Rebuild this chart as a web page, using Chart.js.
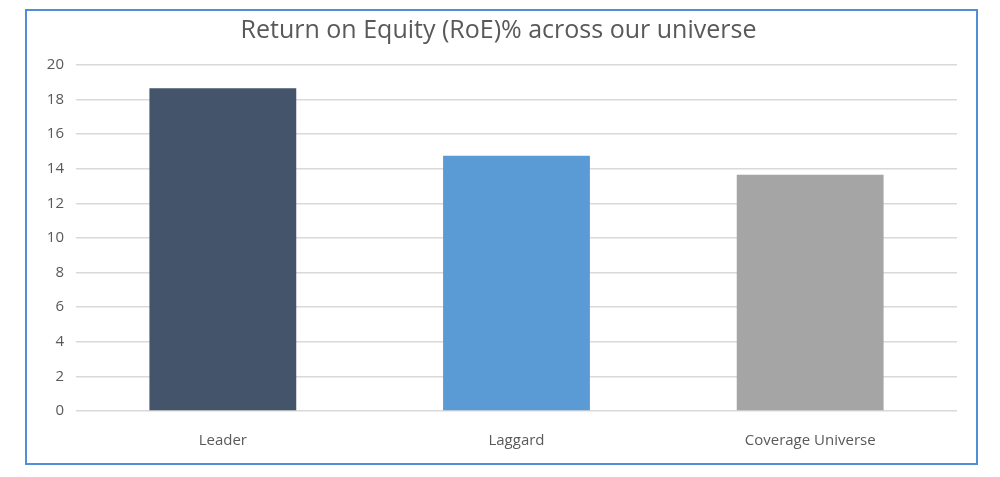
<!DOCTYPE html>
<html>
<head>
<meta charset="utf-8">
<script src="https://cdn.jsdelivr.net/npm/chart.js@4"></script>
<style>
  html, body { margin: 0; padding: 0; background: #fff; }
  #wrap { position: absolute; left: 0; top: 0; width: 1000px; height: 477px; }
  #frame { position: absolute; left: 25px; top: 9px; width: 949px; height: 452px; border: 2px solid #4f8fd6; }
</style>
</head>
<body>
<div id="frame"></div>
<div id="wrap"><canvas id="roeChart" width="1000" height="477"></canvas></div>
<script>
// categories and RoE values
const categories = ['Leader', 'Laggard', 'Coverage Universe'];
const roeValues = [18.65, 14.75, 13.65];
const barColors = ['#44546A', '#5B9BD5', '#A5A5A5'];

const ctx = document.getElementById('roeChart').getContext('2d');
new Chart(ctx, {
    type: 'bar',
    data: {
        labels: categories,
        datasets: [{
            label: 'RoE %',
            data: roeValues,
            backgroundColor: barColors,
            barPercentage: 0.5,
            categoryPercentage: 1.0
        }]
    },
    options: {
        responsive: false,
        animation: false,
        layout: {
            padding: { left: 40, right: 43, top: 16, bottom: 26 }
        },
        plugins: {
            legend: { display: false },
            tooltip: { enabled: false },
            title: {
                display: true,
                text: 'Return on Equity (RoE)% across our universe',
                color: '#595959',
                font: { family: 'Open Sans', size: 25, weight: 'normal' },
                padding: { top: 0, bottom: 19 }
            }
        },
        scales: {
            x: {
                grid: { display: false },
                border: { display: false },
                ticks: {
                    color: '#595959',
                    font: { family: 'Open Sans', size: 15 },
                    padding: 13
                },
                afterFit: s => { s.height = 40; }
            },
            y: {
                min: 0,
                max: 20,
                ticks: {
                    stepSize: 2,
                    color: '#595959',
                    font: { family: 'Open Sans', size: 15 },
                    padding: 12
                },
                grid: { color: '#D9D9D9', lineWidth: 1.5, drawTicks: false },
                border: { display: false },
                afterFit: s => { s.width = 36; }
            }
        }
    }
});
</script>
</body>
</html>
